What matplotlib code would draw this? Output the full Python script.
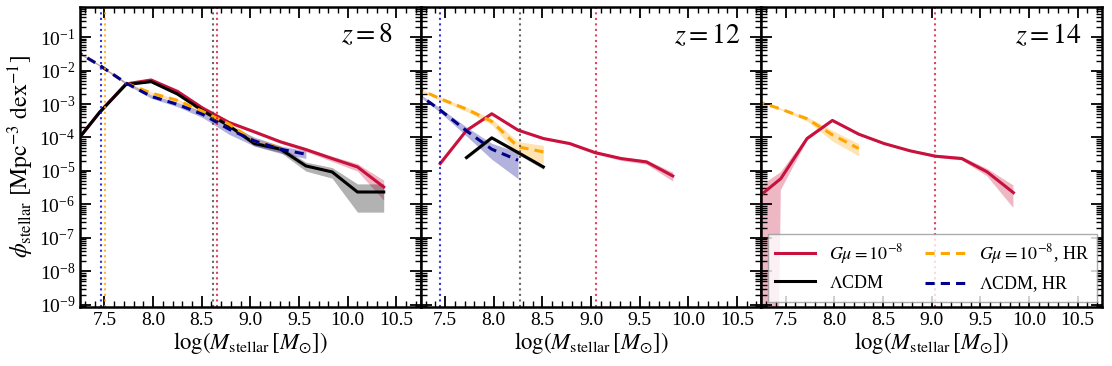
import numpy as np
import matplotlib
matplotlib.use('Agg')
import matplotlib.pyplot as plt
from matplotlib.ticker import MultipleLocator, LogLocator, NullFormatter, FixedLocator

plt.rcParams['font.family'] = ['Liberation Serif', 'DejaVu Serif']
plt.rcParams['mathtext.fontset'] = 'stix'

# log stellar mass bin centres
logm = [7.19, 7.45, 7.72, 7.98, 8.25, 8.51, 8.78, 9.04, 9.31, 9.57, 9.84, 10.10, 10.37]

# log10(phi) per series, start index into logm, fractional error
# z = 8
gm_z8 = [-4.2, -3.25, -2.40, -2.28, -2.62, -3.12, -3.55, -3.83, -4.13, -4.36, -4.63, -4.88, -5.48]
gm_z8_err = [0.07, 0.06, 0.05, 0.05, 0.05, 0.06, 0.07, 0.09, 0.1, 0.13, 0.18, 0.25, 0.6]
lcdm_z8 = [-4.2, -3.25, -2.42, -2.33, -2.70, -3.2, -3.65, -4.18, -4.35, -4.85, -5.03, -5.63, -5.63]
lcdm_z8_err = [0.07, 0.06, 0.05, 0.05, 0.06, 0.07, 0.1, 0.15, 0.2, 0.3, 0.35, 0.75, 0.75]
gmhr_z8 = [-1.39, -1.84, -2.37, -2.67, -2.89, -3.22, -3.6, -4.1, -4.32]
gmhr_z8_err = [0.05, 0.05, 0.06, 0.08, 0.1, 0.12, 0.15, 0.18, 0.2]
lcdmhr_z8 = [-1.39, -1.84, -2.37, -2.77, -3.01, -3.31, -3.75, -4.1, -4.35, -4.5]
lcdmhr_z8_err = [0.05, 0.05, 0.08, 0.12, 0.15, 0.2, 0.3, 0.3, 0.25, 0.25]

# z = 12
gm_z12 = [-4.78, -3.79, -3.29, -3.78, -4.03, -4.18, -4.45, -4.63, -4.73, -5.15]
gm_z12_err = [0.1, 0.08, 0.07, 0.07, 0.08, 0.09, 0.1, 0.12, 0.15, 0.3]
lcdm_z12 = [-4.6, -4.01, -4.45, -4.88]
lcdm_z12_err = [0.1, 0.1, 0.12, 0.15]
gmhr_z12 = [-2.5, -2.84, -3.15, -3.52, -4.28, -4.43]
gmhr_z12_err = [0.08, 0.1, 0.15, 0.2, 0.45, 0.55]
lcdmhr_z12 = [-2.63, -3.18, -3.8, -4.35, -4.68]
lcdmhr_z12_err = [0.08, 0.15, 0.3, 0.5, 0.72]

# z = 14
gm_z14 = [-5.85, -5.23, -4.03, -3.49, -3.9, -4.18, -4.40, -4.56, -4.63, -5.03, -5.65]
gm_z14_err = [1.0, 0.55, 0.15, 0.1, 0.08, 0.08, 0.08, 0.1, 0.12, 0.25, 0.65]
gmhr_z14 = [-2.9, -3.15, -3.44, -3.92, -4.33]
gmhr_z14_err = [0.05, 0.06, 0.15, 0.35, 0.4]

# resolution limits (vertical lines)
vlines = [
    [(7.46, 'mediumblue'), (7.51, 'orange'), (8.62, '0.25'), (8.66, 'crimson')],
    [(7.45, 'mediumblue'), (8.27, '0.25'), (9.05, 'crimson')],
    [(9.03, 'crimson')],
]
redshifts = [8, 12, 14]
ymajor = [1e-9, 1e-8, 1e-7, 1e-6, 1e-5, 1e-4, 1e-3, 1e-2, 1e-1]

c_gm = '#c8113c'
c_lcdm = 'black'
c_gmhr = 'orange'
c_lcdmhr = 'darkblue'

panels = [
    [(gm_z8, gm_z8_err, 0, c_gm, '-'), (lcdm_z8, lcdm_z8_err, 0, c_lcdm, '-'),
     (gmhr_z8, gmhr_z8_err, 0, c_gmhr, '--'), (lcdmhr_z8, lcdmhr_z8_err, 0, c_lcdmhr, '--')],
    [(gm_z12, gm_z12_err, 1, c_gm, '-'), (lcdm_z12, lcdm_z12_err, 2, c_lcdm, '-'),
     (gmhr_z12, gmhr_z12_err, 0, c_gmhr, '--'), (lcdmhr_z12, lcdmhr_z12_err, 0, c_lcdmhr, '--')],
    [(gm_z14, gm_z14_err, 0, c_gm, '-'), (gmhr_z14, gmhr_z14_err, 0, c_gmhr, '--')],
]

fig = plt.figure(figsize=(11.12, 3.66), dpi=100)
axes = fig.subplots(1, 3, sharey=True)
fig.subplots_adjust(left=0.072, right=0.991, top=0.981, bottom=0.161, wspace=0)

text_x = [0.92, 0.94, 0.94]

for i, ax in enumerate(axes):
    for vals, err, start, col, ls in panels[i]:
        x = np.array(logm[start:start + len(vals)])
        phi = 10 ** np.array(vals)
        f = np.array(err)
        lo = np.clip(phi * (1 - f), 1e-60, None)
        hi = phi * (1 + f)
        ax.fill_between(x, lo, hi, color=col, alpha=0.3, lw=0)
        if ls == '--':
            ax.plot(x, phi, color=col, ls=ls, lw=2.2, dashes=(3, 2))
        else:
            ax.plot(x, phi, color=col, ls=ls, lw=2.2)
    for xv, col in vlines[i]:
        ax.axvline(xv, color=col, ls=':', lw=1.5, alpha=0.8)

    ax.set_yscale('log')
    ax.set_xlim(7.25, 10.75)
    ax.set_ylim(8.5e-10, 0.8)
    ax.xaxis.set_major_locator(MultipleLocator(0.5))
    ax.xaxis.set_minor_locator(MultipleLocator(0.1))
    ax.yaxis.set_major_locator(FixedLocator(ymajor))
    ax.yaxis.set_minor_locator(LogLocator(base=10, subs=np.arange(2, 10), numticks=20))
    ax.yaxis.set_minor_formatter(NullFormatter())
    ax.tick_params(which='both', direction='in', top=True, right=True, labelsize=14)
    ax.tick_params(which='major', length=8, width=1.3)
    ax.tick_params(which='minor', length=4, width=1.0)
    for s in ax.spines.values():
        s.set_linewidth(1.8)
    ax.set_xlabel(r'$\log(M_{\rm stellar}\,[M_{\odot}])$', fontsize=16.5, labelpad=1)
    ax.text(text_x[i], 0.905, r'$z = %d$' % redshifts[i], transform=ax.transAxes,
            ha='right', va='center', fontsize=20)

axes[0].set_ylabel(r'$\phi_{\rm stellar}\ [{\rm Mpc}^{-3}\ {\rm dex}^{-1}]$', fontsize=17, labelpad=2)

h1, = axes[2].plot([], [], color=c_gm, lw=2.2, label=r'$G\mu = 10^{-8}$')
h2, = axes[2].plot([], [], color=c_lcdm, lw=2.2, label=r'$\Lambda$CDM')
h3, = axes[2].plot([], [], color=c_gmhr, lw=2.2, ls='--', dashes=(3, 2), label=r'$G\mu = 10^{-8}$, HR')
h4, = axes[2].plot([], [], color=c_lcdmhr, lw=2.2, ls='--', dashes=(3, 2), label=r'$\Lambda$CDM, HR')
axes[2].legend(handles=[h1, h2, h3, h4], ncol=2, loc='lower right', fontsize=13,
               fancybox=False, edgecolor='0.6', framealpha=0.8, columnspacing=1.2,
               borderaxespad=0.3, handlelength=2.2)

fig.savefig('out.png', dpi=100)
